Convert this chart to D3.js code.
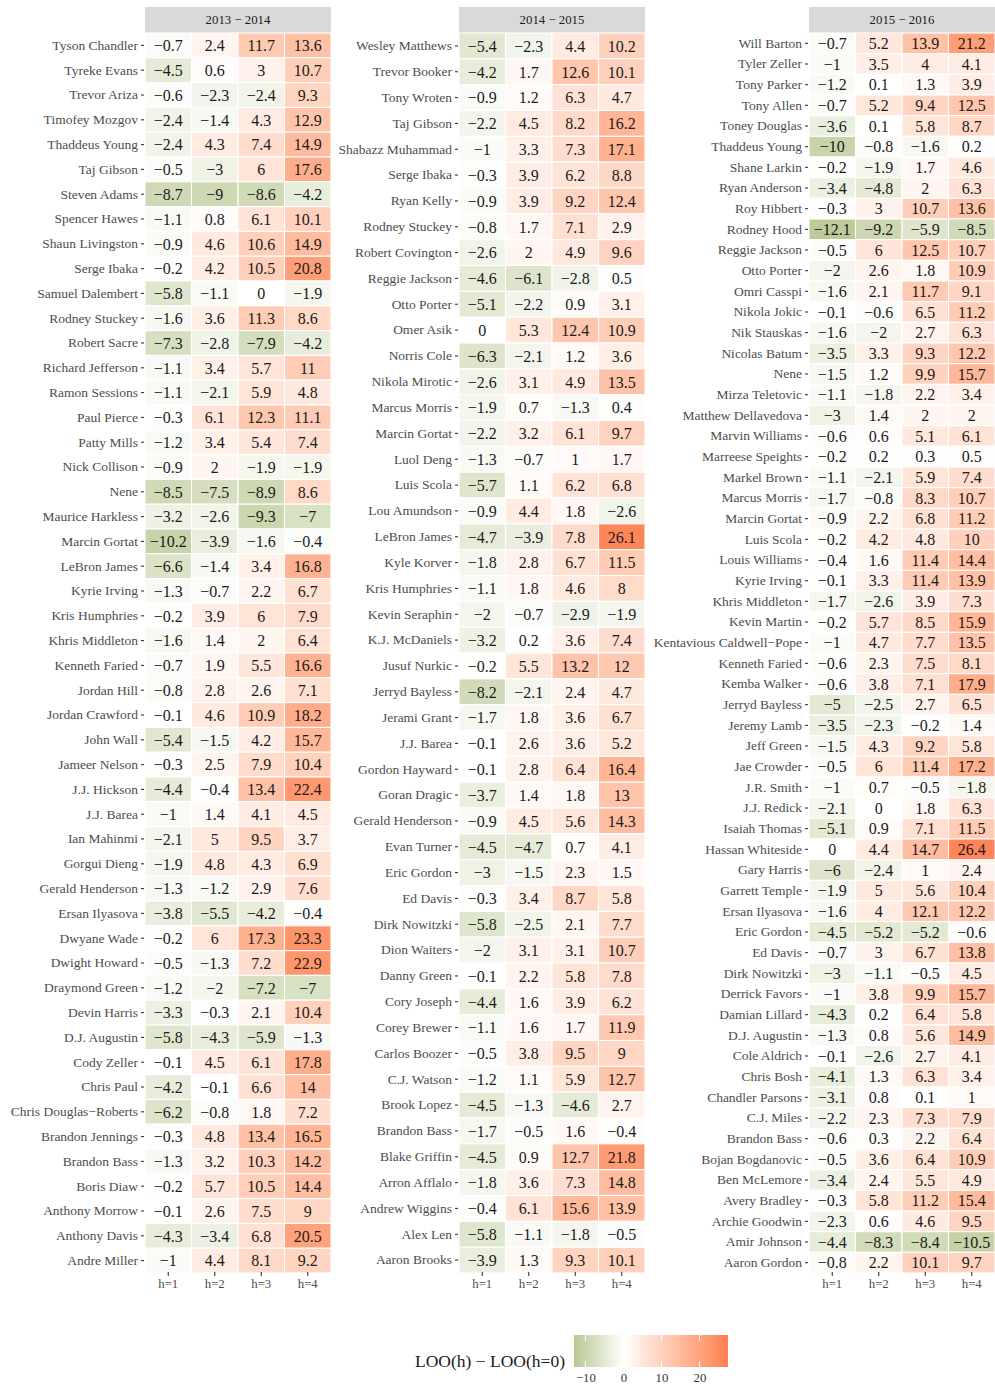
<!DOCTYPE html>
<html lang="en-us">
  <head>
    <meta charset="utf-8">
    <title>LOO(h) heatmap</title>
    <script src="https://cdn.jsdelivr.net/npm/d3@7"></script>
    <style>
      body { margin: 0; background: #fff; }
      text { font-family: "Liberation Serif", "DejaVu Serif", serif; }
    </style>
  </head>
  <body>
    <div id="chart"></div>
    <script>

// columns (forecast horizon)
var horizons = ["h=1", "h=2", "h=3", "h=4"];
var seasons = ["2013 \u2212 2014", "2014 \u2212 2015", "2015 \u2212 2016"];

// 2013 - 2014
var players1 = ["Tyson Chandler", "Tyreke Evans", "Trevor Ariza", "Timofey Mozgov", "Thaddeus Young",
  "Taj Gibson", "Steven Adams", "Spencer Hawes", "Shaun Livingston", "Serge Ibaka", "Samuel Dalembert",
  "Rodney Stuckey", "Robert Sacre", "Richard Jefferson", "Ramon Sessions", "Paul Pierce", "Patty Mills",
  "Nick Collison", "Nene", "Maurice Harkless", "Marcin Gortat", "LeBron James", "Kyrie Irving",
  "Kris Humphries", "Khris Middleton", "Kenneth Faried", "Jordan Hill", "Jordan Crawford", "John Wall",
  "Jameer Nelson", "J.J. Hickson", "J.J. Barea", "Ian Mahinmi", "Gorgui Dieng", "Gerald Henderson",
  "Ersan Ilyasova", "Dwyane Wade", "Dwight Howard", "Draymond Green", "Devin Harris", "D.J. Augustin",
  "Cody Zeller", "Chris Paul", "Chris Douglas\u2212Roberts", "Brandon Jennings", "Brandon Bass",
  "Boris Diaw", "Anthony Morrow", "Anthony Davis", "Andre Miller"];
var values1 = [
  [-0.7, 2.4, 11.7, 13.6], [-4.5, 0.6, 3, 10.7], [-0.6, -2.3, -2.4, 9.3], [-2.4, -1.4, 4.3, 12.9],
  [-2.4, 4.3, 7.4, 14.9], [-0.5, -3, 6, 17.6], [-8.7, -9, -8.6, -4.2], [-1.1, 0.8, 6.1, 10.1],
  [-0.9, 4.6, 10.6, 14.9], [-0.2, 4.2, 10.5, 20.8], [-5.8, -1.1, 0, -1.9], [-1.6, 3.6, 11.3, 8.6],
  [-7.3, -2.8, -7.9, -4.2], [-1.1, 3.4, 5.7, 11], [-1.1, -2.1, 5.9, 4.8], [-0.3, 6.1, 12.3, 11.1],
  [-1.2, 3.4, 5.4, 7.4], [-0.9, 2, -1.9, -1.9], [-8.5, -7.5, -8.9, 8.6], [-3.2, -2.6, -9.3, -7],
  [-10.2, -3.9, -1.6, -0.4], [-6.6, -1.4, 3.4, 16.8], [-1.3, -0.7, 2.2, 6.7], [-0.2, 3.9, 6, 7.9],
  [-1.6, 1.4, 2, 6.4], [-0.7, 1.9, 5.5, 16.6], [-0.8, 2.8, 2.6, 7.1], [-0.1, 4.6, 10.9, 18.2],
  [-5.4, -1.5, 4.2, 15.7], [-0.3, 2.5, 7.9, 10.4], [-4.4, -0.4, 13.4, 22.4], [-1, 1.4, 4.1, 4.5],
  [-2.1, 5, 9.5, 3.7], [-1.9, 4.8, 4.3, 6.9], [-1.3, -1.2, 2.9, 7.6], [-3.8, -5.5, -4.2, -0.4],
  [-0.2, 6, 17.3, 23.3], [-0.5, -1.3, 7.2, 22.9], [-1.2, -2, -7.2, -7], [-3.3, -0.3, 2.1, 10.4],
  [-5.8, -4.3, -5.9, -1.3], [-0.1, 4.5, 6.1, 17.8], [-4.2, -0.1, 6.6, 14], [-6.2, -0.8, 1.8, 7.2],
  [-0.3, 4.8, 13.4, 16.5], [-1.3, 3.2, 10.3, 14.2], [-0.2, 5.7, 10.5, 14.4], [-0.1, 2.6, 7.5, 9],
  [-4.3, -3.4, 6.8, 20.5], [-1, 4.4, 8.1, 9.2]];

// 2014 - 2015
var players2 = ["Wesley Matthews", "Trevor Booker", "Tony Wroten", "Taj Gibson", "Shabazz Muhammad",
  "Serge Ibaka", "Ryan Kelly", "Rodney Stuckey", "Robert Covington", "Reggie Jackson", "Otto Porter",
  "Omer Asik", "Norris Cole", "Nikola Mirotic", "Marcus Morris", "Marcin Gortat", "Luol Deng",
  "Luis Scola", "Lou Amundson", "LeBron James", "Kyle Korver", "Kris Humphries", "Kevin Seraphin",
  "K.J. McDaniels", "Jusuf Nurkic", "Jerryd Bayless", "Jerami Grant", "J.J. Barea", "Gordon Hayward",
  "Goran Dragic", "Gerald Henderson", "Evan Turner", "Eric Gordon", "Ed Davis", "Dirk Nowitzki",
  "Dion Waiters", "Danny Green", "Cory Joseph", "Corey Brewer", "Carlos Boozer", "C.J. Watson",
  "Brook Lopez", "Brandon Bass", "Blake Griffin", "Arron Afflalo", "Andrew Wiggins", "Alex Len",
  "Aaron Brooks"];
var values2 = [
  [-5.4, -2.3, 4.4, 10.2], [-4.2, 1.7, 12.6, 10.1], [-0.9, 1.2, 6.3, 4.7], [-2.2, 4.5, 8.2, 16.2],
  [-1, 3.3, 7.3, 17.1], [-0.3, 3.9, 6.2, 8.8], [-0.9, 3.9, 9.2, 12.4], [-0.8, 1.7, 7.1, 2.9],
  [-2.6, 2, 4.9, 9.6], [-4.6, -6.1, -2.8, 0.5], [-5.1, -2.2, 0.9, 3.1], [0, 5.3, 12.4, 10.9],
  [-6.3, -2.1, 1.2, 3.6], [-2.6, 3.1, 4.9, 13.5], [-1.9, 0.7, -1.3, 0.4], [-2.2, 3.2, 6.1, 9.7],
  [-1.3, -0.7, 1, 1.7], [-5.7, 1.1, 6.2, 6.8], [-0.9, 4.4, 1.8, -2.6], [-4.7, -3.9, 7.8, 26.1],
  [-1.8, 2.8, 6.7, 11.5], [-1.1, 1.8, 4.6, 8], [-2, -0.7, -2.9, -1.9], [-3.2, 0.2, 3.6, 7.4],
  [-0.2, 5.5, 13.2, 12], [-8.2, -2.1, 2.4, 4.7], [-1.7, 1.8, 3.6, 6.7], [-0.1, 2.6, 3.6, 5.2],
  [-0.1, 2.8, 6.4, 16.4], [-3.7, 1.4, 1.8, 13], [-0.9, 4.5, 5.6, 14.3], [-4.5, -4.7, 0.7, 4.1],
  [-3, -1.5, 2.3, 1.5], [-0.3, 3.4, 8.7, 5.8], [-5.8, -2.5, 2.1, 7.7], [-2, 3.1, 3.1, 10.7],
  [-0.1, 2.2, 5.8, 7.8], [-4.4, 1.6, 3.9, 6.2], [-1.1, 1.6, 1.7, 11.9], [-0.5, 3.8, 9.5, 9],
  [-1.2, 1.1, 5.9, 12.7], [-4.5, -1.3, -4.6, 2.7], [-1.7, -0.5, 1.6, -0.4], [-4.5, 0.9, 12.7, 21.8],
  [-1.8, 3.6, 7.3, 14.8], [-0.4, 6.1, 15.6, 13.9], [-5.8, -1.1, -1.8, -0.5], [-3.9, 1.3, 9.3, 10.1]];

// 2015 - 2016
var players3 = ["Will Barton", "Tyler Zeller", "Tony Parker", "Tony Allen", "Toney Douglas",
  "Thaddeus Young", "Shane Larkin", "Ryan Anderson", "Roy Hibbert", "Rodney Hood", "Reggie Jackson",
  "Otto Porter", "Omri Casspi", "Nikola Jokic", "Nik Stauskas", "Nicolas Batum", "Nene",
  "Mirza Teletovic", "Matthew Dellavedova", "Marvin Williams", "Marreese Speights", "Markel Brown",
  "Marcus Morris", "Marcin Gortat", "Luis Scola", "Louis Williams", "Kyrie Irving", "Khris Middleton",
  "Kevin Martin", "Kentavious Caldwell\u2212Pope", "Kenneth Faried", "Kemba Walker", "Jerryd Bayless",
  "Jeremy Lamb", "Jeff Green", "Jae Crowder", "J.R. Smith", "J.J. Redick", "Isaiah Thomas",
  "Hassan Whiteside", "Gary Harris", "Garrett Temple", "Ersan Ilyasova", "Eric Gordon", "Ed Davis",
  "Dirk Nowitzki", "Derrick Favors", "Damian Lillard", "D.J. Augustin", "Cole Aldrich", "Chris Bosh",
  "Chandler Parsons", "C.J. Miles", "Brandon Bass", "Bojan Bogdanovic", "Ben McLemore",
  "Avery Bradley", "Archie Goodwin", "Amir Johnson", "Aaron Gordon"];
var values3 = [
  [-0.7, 5.2, 13.9, 21.2], [-1, 3.5, 4, 4.1], [-1.2, 0.1, 1.3, 3.9], [-0.7, 5.2, 9.4, 12.5],
  [-3.6, 0.1, 5.8, 8.7], [-10, -0.8, -1.6, 0.2], [-0.2, -1.9, 1.7, 4.6], [-3.4, -4.8, 2, 6.3],
  [-0.3, 3, 10.7, 13.6], [-12.1, -9.2, -5.9, -8.5], [-0.5, 6, 12.5, 10.7], [-2, 2.6, 1.8, 10.9],
  [-1.6, 2.1, 11.7, 9.1], [-0.1, -0.6, 6.5, 11.2], [-1.6, -2, 2.7, 6.3], [-3.5, 3.3, 9.3, 12.2],
  [-1.5, 1.2, 9.9, 15.7], [-1.1, -1.8, 2.2, 3.4], [-3, 1.4, 2, 2], [-0.6, 0.6, 5.1, 6.1],
  [-0.2, 0.2, 0.3, 0.5], [-1.1, -2.1, 5.9, 7.4], [-1.7, -0.8, 8.3, 10.7], [-0.9, 2.2, 6.8, 11.2],
  [-0.2, 4.2, 4.8, 10], [-0.4, 1.6, 11.4, 14.4], [-0.1, 3.3, 11.4, 13.9], [-1.7, -2.6, 3.9, 7.3],
  [-0.2, 5.7, 8.5, 15.9], [-1, 4.7, 7.7, 13.5], [-0.6, 2.3, 7.5, 8.1], [-0.6, 3.8, 7.1, 17.9],
  [-5, -2.5, 2.7, 6.5], [-3.5, -2.3, -0.2, 1.4], [-1.5, 4.3, 9.2, 5.8], [-0.5, 6, 11.4, 17.2],
  [-1, 0.7, -0.5, -1.8], [-2.1, 0, 1.8, 6.3], [-5.1, 0.9, 7.1, 11.5], [0, 4.4, 14.7, 26.4],
  [-6, -2.4, 1, 2.4], [-1.9, 5, 5.6, 10.4], [-1.6, 4, 12.1, 12.2], [-4.5, -5.2, -5.2, -0.6],
  [-0.7, 3, 6.7, 13.8], [-3, -1.1, -0.5, 4.5], [-1, 3.8, 9.9, 15.7], [-4.3, 0.2, 6.4, 5.8],
  [-1.3, 0.8, 5.6, 14.9], [-0.1, -2.6, 2.7, 4.1], [-4.1, 1.3, 6.3, 3.4], [-3.1, 0.8, 0.1, 1],
  [-2.2, 2.3, 7.3, 7.9], [-0.6, 0.3, 2.2, 6.4], [-0.5, 3.6, 6.4, 10.9], [-3.4, 2.4, 5.5, 4.9],
  [-0.3, 5.8, 11.2, 15.4], [-2.3, 0.6, 4.6, 9.5], [-4.4, -8.3, -8.4, -10.5], [-0.8, 2.2, 10.1, 9.7]];

var legendTicks = [-10, 0, 10, 20];

var panels = [
  {title: seasons[0], players: players1, values: values1, x0: 145},
  {title: seasons[1], players: players2, values: values2, x0: 459},
  {title: seasons[2], players: players3, values: values3, x0: 809}
];

var width = 995, height = 1385;
var cellsTop = 33, cellsBottom = 1273, panelWidth = 186;

var color = d3.scaleLinear()
    .domain([-13, 0, 27.5])
    .range(["#b8c792", "#ffffff", "#ff7f50"])
    .interpolate(d3.interpolateLab)
    .clamp(true);

function fmt(v) {
  return (v < 0 ? "\u2212" : "") + String(Math.abs(v));
}

var svg = d3.select("#chart").append("svg")
    .attr("width", width)
    .attr("height", height);

panels.forEach(function(p) {
  var g = svg.append("g");

  var x = d3.scaleBand()
      .domain(horizons)
      .range([p.x0, p.x0 + panelWidth]);

  var y = d3.scaleBand()
      .domain(p.players)
      .range([cellsTop, cellsBottom]);

  // strip
  g.append("rect")
      .attr("x", p.x0)
      .attr("y", 7)
      .attr("width", panelWidth)
      .attr("height", cellsTop - 7)
      .style("fill", "#d9d9d9");

  g.append("text")
      .attr("x", p.x0 + panelWidth / 2)
      .attr("y", 20)
      .attr("dy", "0.35em")
      .attr("text-anchor", "middle")
      .style("font-size", "12.8px")
      .style("fill", "#1a1a1a")
      .text(p.title);

  var row = g.selectAll(".row")
      .data(p.values)
      .enter().append("g")
      .attr("class", "row")
      .attr("transform", function(d, i) { return "translate(0," + y(p.players[i]) + ")"; });

  var cell = row.selectAll(".cell")
      .data(function(d) { return d; })
      .enter().append("g")
      .attr("class", "cell")
      .attr("transform", function(d, i) { return "translate(" + x(horizons[i]) + ",0)"; });

  cell.append("rect")
      .attr("width", x.bandwidth())
      .attr("height", y.bandwidth())
      .style("fill", function(d) { return color(d); })
      .style("stroke", "#ffffff")
      .style("stroke-width", 1.1);

  cell.append("text")
      .attr("x", x.bandwidth() / 2)
      .attr("y", y.bandwidth() / 2)
      .attr("dy", "0.36em")
      .attr("text-anchor", "middle")
      .style("font-size", "16px")
      .style("fill", "#1a1a1a")
      .text(fmt);

  var yAxis = d3.axisLeft(y).tickSize(3).tickPadding(3);
  var ya = g.append("g")
      .attr("transform", "translate(" + (p.x0 - 1) + ",0)")
      .call(yAxis);
  ya.select(".domain").remove();
  ya.selectAll("line").style("stroke", "#333").style("stroke-width", 1.1);
  ya.selectAll("text")
      .style("font-family", "'Liberation Serif', serif")
      .style("font-size", "13.5px")
      .style("fill", "#4d4d4d");

  var xAxis = d3.axisBottom(x).tickSize(4).tickPadding(3);
  var xa = g.append("g")
      .attr("transform", "translate(0," + (cellsBottom - 1) + ")")
      .call(xAxis);
  xa.select(".domain").remove();
  xa.selectAll("line").style("stroke", "#333").style("stroke-width", 1.1);
  xa.selectAll("text")
      .style("font-family", "'Liberation Serif', serif")
      .style("font-size", "12.8px")
      .style("fill", "#4d4d4d");
});

// legend
var lx0 = 574, lx1 = 728, ly0 = 1335, ly1 = 1367;
var lscale = d3.scaleLinear()
    .domain([-13, 27.5])
    .range([lx0, lx1]);

var grad = svg.append("defs")
  .append("linearGradient")
    .attr("id", "gradient")
    .attr("x1", "0%").attr("x2", "100%")
    .attr("y1", "0%").attr("y2", "0%");

d3.range(0, 41).forEach(function(i) {
  var v = -13 + i * (40.5 / 40);
  grad.append("stop")
      .attr("offset", (i / 40 * 100) + "%")
      .attr("stop-color", color(v));
});

svg.append("rect")
    .attr("x", lx0)
    .attr("y", ly0)
    .attr("width", lx1 - lx0)
    .attr("height", ly1 - ly0)
    .style("fill", "url(#gradient)");

var tk = svg.append("g").selectAll("g")
    .data(legendTicks)
    .enter().append("g");

tk.append("line")
    .attr("x1", lscale).attr("x2", lscale)
    .attr("y1", ly0).attr("y2", ly0 + 6)
    .style("stroke", "#fff").style("stroke-width", 1);
tk.append("line")
    .attr("x1", lscale).attr("x2", lscale)
    .attr("y1", ly1 - 6).attr("y2", ly1)
    .style("stroke", "#fff").style("stroke-width", 1);

var lax = svg.append("g")
    .attr("transform", "translate(0," + ly1 + ")")
    .call(d3.axisBottom(lscale).tickValues(legendTicks).tickSize(0).tickPadding(6)
      .tickFormat(function(d) { return fmt(d); }));
lax.select(".domain").remove();
lax.selectAll("text")
    .style("font-family", "'Liberation Serif', serif")
    .style("font-size", "12.8px")
    .style("fill", "#333");

svg.append("text")
    .attr("x", 565)
    .attr("y", 1361)
    .attr("dy", "0.35em")
    .attr("text-anchor", "end")
    .style("font-size", "17.5px")
    .style("fill", "#1a1a1a")
    .text("LOO(h) \u2212 LOO(h=0)");

    </script>
  </body>
</html>
